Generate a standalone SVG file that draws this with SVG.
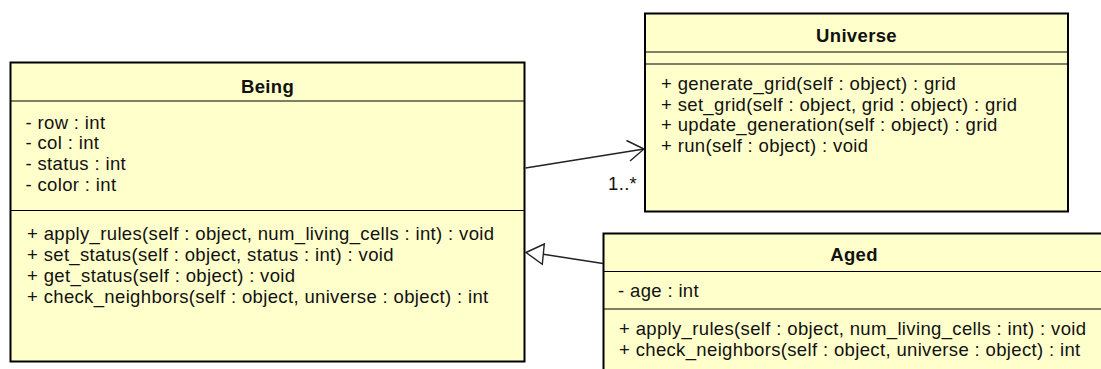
<svg xmlns="http://www.w3.org/2000/svg" width="1101" height="369" viewBox="0 0 1101 369">
<style>
.box{fill:#ffffcc;stroke:#000;stroke-width:2}
.sep{stroke:#000;stroke-width:1.2;fill:none}
.t{font-family:"Liberation Sans",Arial,sans-serif;font-size:18.5px;letter-spacing:0.35px;fill:#111}
.title{font-family:"Liberation Sans",Arial,sans-serif;font-size:18.5px;letter-spacing:0.35px;font-weight:bold;fill:#111;text-anchor:middle}
.conn{stroke:#222;stroke-width:1.4;fill:none}
</style>
<rect width="1101" height="369" fill="#fff"/>
<g id="Being">
<rect class="box" x="10.5" y="62.5" width="514" height="299"/>
<line class="sep" x1="10.5" y1="101" x2="524.5" y2="101"/>
<line class="sep" x1="10.5" y1="210.5" x2="524.5" y2="210.5"/>
<text class="title" x="267.5" y="92.5">Being</text>
<text class="t" x="25.5" y="128.5">- row : int</text>
<text class="t" x="25.5" y="149.3">- col : int</text>
<text class="t" x="25.5" y="170">- status : int</text>
<text class="t" x="25.5" y="190.8">- color : int</text>
<text class="t" x="27" y="240">+ apply_rules(self : object, num_living_cells : int) : void</text>
<text class="t" x="27" y="261">+ set_status(self : object, status : int) : void</text>
<text class="t" x="27" y="282">+ get_status(self : object) : void</text>
<text class="t" x="27" y="303">+ check_neighbors(self : object, universe : object) : int</text>
</g>
<g id="Universe">
<rect class="box" x="645" y="13.5" width="423" height="198"/>
<line class="sep" x1="645" y1="52" x2="1068" y2="52"/>
<line class="sep" x1="645" y1="64" x2="1068" y2="64"/>
<text class="title" x="856.5" y="41.5">Universe</text>
<text class="t" x="661" y="89.5">+ generate_grid(self : object) : grid</text>
<text class="t" x="661" y="110.5">+ set_grid(self : object, grid : object) : grid</text>
<text class="t" x="661" y="131.3">+ update_generation(self : object) : grid</text>
<text class="t" x="661" y="152">+ run(self : object) : void</text>
</g>
<g id="Aged">
<rect class="box" x="603.5" y="233.5" width="501" height="150"/>
<line class="sep" x1="603.5" y1="271.5" x2="1104.5" y2="271.5"/>
<line class="sep" x1="603.5" y1="309" x2="1104.5" y2="309"/>
<text class="title" x="854" y="261">Aged</text>
<text class="t" x="618" y="297">- age : int</text>
<text class="t" x="619" y="335">+ apply_rules(self : object, num_living_cells : int) : void</text>
<text class="t" x="619" y="356">+ check_neighbors(self : object, universe : object) : int</text>
</g>
<g id="connectors">
<line class="conn" x1="525.5" y1="168" x2="644" y2="149"/>
<polyline class="conn" points="626.5,140.5 644,149 630,161"/>
<text class="t" x="608" y="190">1..*</text>
<line class="conn" x1="603" y1="263.5" x2="543.3" y2="254.2"/>
<polygon class="conn" style="fill:#fff" points="526,252.5 544.3,244 542.3,264.3"/>
</g>
</svg>
